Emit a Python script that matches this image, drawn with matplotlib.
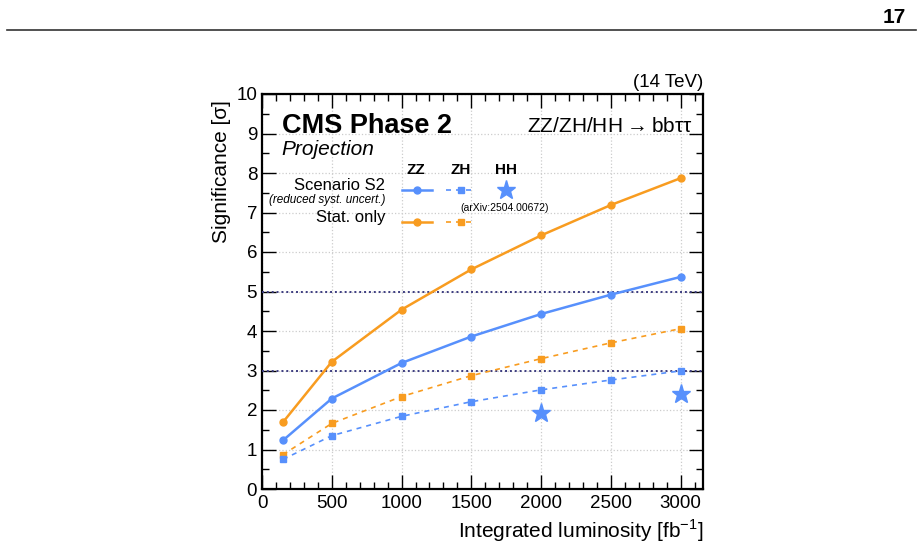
import matplotlib
matplotlib.use("Agg")
import matplotlib.pyplot as plt
from matplotlib.lines import Line2D
from matplotlib.ticker import MultipleLocator

plt.rcParams['font.family'] = ['Liberation Sans', 'DejaVu Sans']
plt.rcParams['mathtext.fontset'] = 'custom'
plt.rcParams['mathtext.rm'] = 'Liberation Sans'

# ---- data ----
lumi = [150, 500, 1000, 1500, 2000, 2500, 3000]
zz_s2 = [1.23, 2.29, 3.19, 3.86, 4.43, 4.92, 5.37]
zz_stat = [1.69, 3.22, 4.54, 5.56, 6.42, 7.19, 7.87]
zh_s2 = [0.75, 1.35, 1.84, 2.21, 2.51, 2.76, 2.99]
zh_stat = [0.87, 1.66, 2.34, 2.87, 3.30, 3.70, 4.06]
hh_lumi = [2000, 3000]
hh_s2 = [1.92, 2.41]
ref_lines = [3, 5]

BLUE = '#5790fc'
ORANGE = '#f89c20'
NAVY = '#3c3c80'

fig = plt.figure(figsize=(9.2, 5.42), dpi=100)

# page header
fig.text(0.985, 0.967, '17', ha='right', va='center', fontsize=15, fontweight='bold')
fig.add_artist(Line2D([0.008, 0.996], [0.944, 0.944], transform=fig.transFigure,
                      color='#333333', lw=1.2))

ax = fig.add_axes([262/920, 1-489/542, 441/920, 395/542])

ax.plot(lumi, zz_stat, '-', color=ORANGE, lw=1.8, marker='o', ms=5, zorder=5)
ax.plot(lumi, zz_s2, '-', color=BLUE, lw=1.8, marker='o', ms=5, zorder=5)
ax.plot(lumi, zh_stat, '--', color=ORANGE, lw=1.2, marker='s', ms=4.5, dashes=(3, 3), zorder=5)
ax.plot(lumi, zh_s2, '--', color=BLUE, lw=1.2, marker='s', ms=4.5, dashes=(3, 3), zorder=5)
ax.plot(hh_lumi, hh_s2, ls='none', color=BLUE, marker='*', ms=14, zorder=6)
for v in ref_lines:
    ax.axhline(v, color=NAVY, ls=(0, (1, 1.5)), lw=1.4, zorder=3)

ax.set_xlim(0, 3160)
ax.set_ylim(0, 10)
ax.xaxis.set_major_locator(MultipleLocator(500))
ax.xaxis.set_minor_locator(MultipleLocator(100))
ax.yaxis.set_major_locator(MultipleLocator(1))
ax.yaxis.set_minor_locator(MultipleLocator(0.5))
ax.tick_params(which='both', direction='in', top=True, right=True, labelsize=13.5)
ax.tick_params(which='major', length=10, width=1)
ax.tick_params(which='minor', length=5, width=1)
ax.tick_params(axis='x', pad=4)
for s in ax.spines.values():
    s.set_linewidth(1.6)
ax.grid(True, which='major', color='#cccccc', ls=':', lw=0.9)

ax.set_xlabel('Integrated luminosity [fb$^{-1}$]', fontsize=15, ha='right', x=1.0)
ax.set_ylabel('Significance [σ]', fontsize=15, ha='right', y=0.985)

ax.text(1.0, 1.008, '(14 TeV)', transform=ax.transAxes, ha='right', va='bottom', fontsize=13.5)
ax.text(0.045, 0.952, 'CMS Phase 2', transform=ax.transAxes, ha='left', va='top',
        fontsize=19.5, fontweight='bold')
ax.text(0.045, 0.846, 'Projection', transform=ax.transAxes, ha='left', va='baseline',
        fontsize=15, style='italic')
ax.text(0.977, 0.904, r'ZZ/ZH/HH$\rightarrow$bbττ', transform=ax.transAxes, ha='right',
        va='baseline', fontsize=15)

# manual legend
T = ax.transAxes
for x, lab in [(0.349, 'ZZ'), (0.451, 'ZH'), (0.553, 'HH')]:
    ax.text(x, 0.808, lab, transform=T, ha='center', va='center', fontsize=11, fontweight='bold')
ax.text(0.279, 0.769, 'Scenario S2', transform=T, ha='right', va='center', fontsize=12)
ax.text(0.279, 0.732, '(reduced syst. uncert.)', transform=T, ha='right', va='center',
        fontsize=8.5, style='italic')
ax.text(0.279, 0.688, 'Stat. only', transform=T, ha='right', va='center', fontsize=12)
ax.text(0.551, 0.711, '(arXiv:2504.00672)', transform=T, ha='center', va='center', fontsize=7.5)
for y, c in [(0.757, BLUE), (0.676, ORANGE)]:
    ax.add_line(Line2D([0.317, 0.385], [y, y], transform=T, color=c, lw=1.8))
    ax.add_line(Line2D([0.351], [y], transform=T, color=c, marker='o', ms=5, ls='none'))
    ax.add_line(Line2D([0.417, 0.483], [y, y], transform=T, color=c, lw=1.2,
                       ls='--', dashes=(3, 3)))
    ax.add_line(Line2D([0.451], [y], transform=T, color=c, marker='s', ms=4.5, ls='none'))
ax.add_line(Line2D([0.553], [0.757], transform=T, color=BLUE, marker='*', ms=14, ls='none'))

fig.savefig('out.png', dpi=100)
